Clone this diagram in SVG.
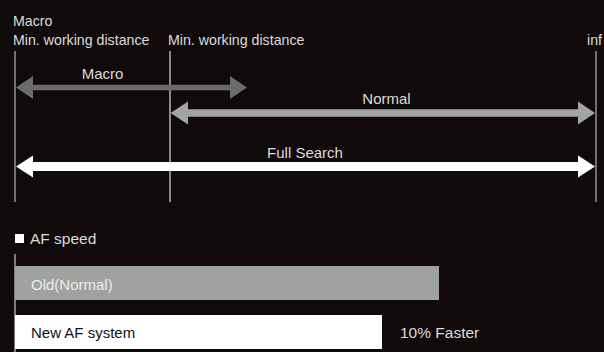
<svg xmlns="http://www.w3.org/2000/svg" width="604" height="352" viewBox="0 0 604 352">
<style>
text{font-family:"Liberation Sans",Arial,sans-serif;fill:#dcdcdc}
.t{font-size:14.2px}
.m{font-size:15px}
.tick{stroke:#a8a8a8;stroke-width:1.3}
</style>
<rect width="604" height="352" fill="#100a0b"/>
<g id="ticks">
<line class="tick" x1="15" y1="51" x2="15" y2="202"/>
<line x1="170" y1="51" x2="170" y2="202" stroke="#e0e0e0" stroke-width="1.2"/>
<line class="tick" x1="596" y1="51" x2="596" y2="202"/>
</g>
<g id="label-macro-min">
<text class="t" x="13" y="26">Macro</text>
<text class="t" x="13" y="45">Min. working distance</text>
</g>
<g id="label-min"><text class="t" x="168" y="45">Min. working distance</text></g>
<g id="label-inf"><text class="t" x="587" y="45">inf</text></g>
<g id="connectors">
<polygon id="arrow-macro" fill="#6b6b6b" points="16,87.5 33,76 33,84.8 230,84.8 230,76 247,87.5 230,99 230,90.2 33,90.2 33,99"/>
<polygon id="arrow-normal" fill="#a2a4a2" points="170.5,113 188,101.5 188,109.2 578,109.2 578,101.5 595,113 578,124.5 578,116.8 188,116.8 188,124.5"/>
<polygon id="arrow-full" fill="#ffffff" points="16,166.5 33,155.5 33,162 578,162 578,155.5 595,166.5 578,177.5 578,171 33,171 33,177.5"/>
</g>
<g id="label-macro"><text class="m" x="102.5" y="79" text-anchor="middle">Macro</text></g>
<g id="label-normal"><text class="m" x="386.5" y="104" text-anchor="middle">Normal</text></g>
<g id="label-full"><text class="m" x="305" y="158" text-anchor="middle">Full Search</text></g>
<g id="af-title">
<rect x="15" y="234" width="9" height="9" fill="#ffffff"/>
<text class="m" x="30" y="244" style="font-size:15.5px">AF speed</text>
</g>
<g id="axis"><line x1="15" y1="254" x2="15" y2="352" stroke="#a0a0a0" stroke-width="1.5"/></g>
<g id="bar-old">
<rect x="15" y="266" width="424" height="34" fill="#a0a2a0"/>
<text class="m" x="31" y="290" style="fill:#ececec">Old(Normal)</text>
</g>
<g id="bar-new">
<rect x="15" y="315" width="367" height="34" fill="#ffffff"/>
<text class="m" x="31" y="338" style="fill:#111">New AF system</text>
</g>
<g id="label-faster"><text class="m" x="400" y="338" style="font-size:15.5px">10% Faster</text></g>
</svg>
